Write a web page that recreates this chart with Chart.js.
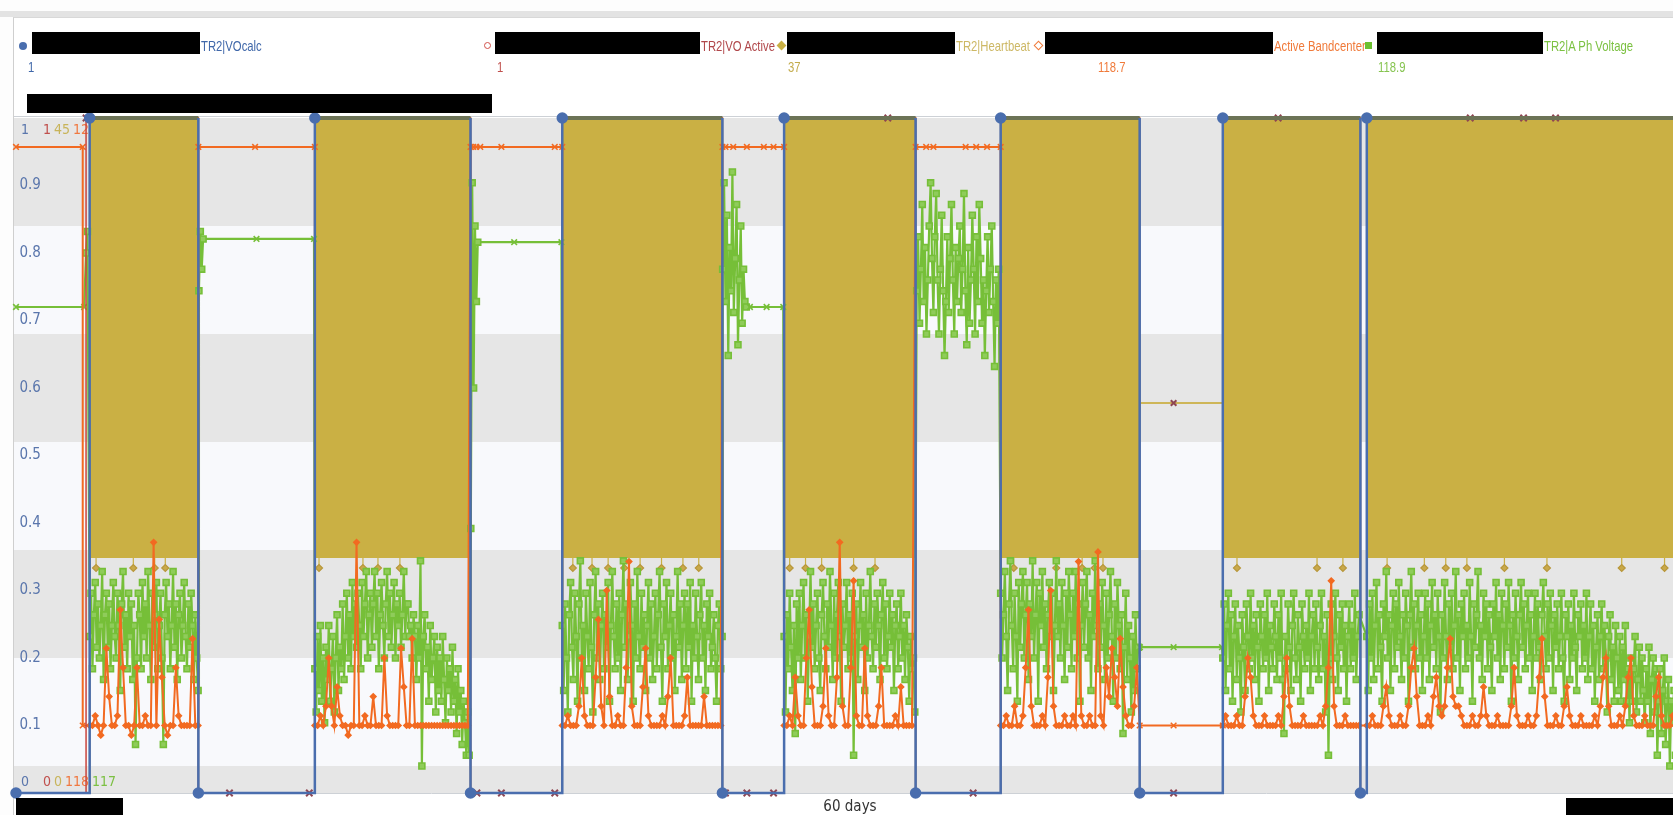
<!DOCTYPE html>
<html>
<head>
<meta charset="utf-8">
<title>TR2 VO trend</title>
<script src="https://cdn.jsdelivr.net/npm/chart.js@4/dist/chart.umd.min.js"></script>
<style>
  body { margin: 0; width: 1673px; height: 815px; overflow: hidden; background: #fdfdfd; position: relative;
         font-family: "Liberation Sans", Arial, sans-serif; }
  .topbar { position: absolute; left: 0; top: 11px; width: 1673px; height: 6px; background: #e3e3e3; }
  .frame { position: absolute; left: 13px; top: 17px; width: 1700px; height: 820px; background: #fff;
           border-left: 1px solid #cfcfcf; border-top: 1px solid #d8d8d8; }
  #wrap { position: absolute; left: 0; top: 0; }
  .lbl { position: absolute; font-size: 14.5px; line-height: 16px; white-space: nowrap;
         transform: scaleX(0.78); transform-origin: 0 0; }
  .mk { position: absolute; width: 7px; height: 7px; box-sizing: border-box; }
  .redact { position: absolute; background: #000; }
</style>
</head>
<body>
<div class="topbar"></div>
<div class="frame"></div>
<div id="wrap"><canvas id="trend" width="1700" height="815"></canvas></div>

<!-- legend -->
<div class="mk" style="left:19px;top:42px;width:8px;height:8px;border-radius:50%;background:#4a6eae"></div>
<div class="redact" style="left:32px;top:32px;width:168px;height:22px"></div>
<div class="lbl" style="left:201px;top:38px;color:#3f67a9">TR2|VOcalc</div>
<div class="lbl" style="left:28px;top:59px;color:#3f67a9">1</div>

<div class="mk" style="left:484px;top:42px;border:1.5px solid #d0504a;border-radius:50%"></div>
<div class="redact" style="left:495px;top:32px;width:205px;height:22px"></div>
<div class="lbl" style="left:701px;top:38px;color:#b0474a">TR2|VO Active</div>
<div class="lbl" style="left:497px;top:59px;color:#c0504d">1</div>

<div class="mk" style="left:778px;top:42px;background:#c9b044;transform:rotate(45deg)"></div>
<div class="redact" style="left:787px;top:32px;width:168px;height:22px"></div>
<div class="lbl" style="left:956px;top:38px;color:#cdb865">TR2|Heartbeat</div>
<div class="lbl" style="left:788px;top:59px;color:#c3ab4a">37</div>

<div class="mk" style="left:1035px;top:42px;border:1.5px solid #f07a3a;transform:rotate(45deg)"></div>
<div class="redact" style="left:1045px;top:32px;width:228px;height:22px"></div>
<div class="lbl" style="left:1274px;top:38px;color:#f07a3a">Active Bandcenter</div>
<div class="lbl" style="left:1098px;top:59px;color:#f07a3a">118.7</div>

<div class="mk" style="left:1365px;top:42px;background:#6cc030"></div>
<div class="redact" style="left:1377px;top:32px;width:166px;height:22px"></div>
<div class="lbl" style="left:1544px;top:38px;color:#7cc142">TR2|A Ph Voltage</div>
<div class="lbl" style="left:1378px;top:59px;color:#86c450">118.9</div>

<div class="redact" style="left:27px;top:94px;width:465px;height:19px"></div>
<div class="redact" style="left:16px;top:798px;width:107px;height:17px"></div>
<div class="redact" style="left:1566px;top:798px;width:107px;height:17px"></div>

<script>
// ---- data (x in days over the 60 day window) ----
const xRange = [0, 60];
const xTitle = '60 days';
const bandStep = 0.1;  // days between logged bandcenter samples inside a run
const voltStep = 0.05; // days between logged voltage samples inside a run

const calcRange = [0, 1];
const activeRange = [0, 1];
const beatRange = [0, 45];
const bandRange = [118, 125];
const voltRange = [116.75, 123];

// TR2|VOcalc change points [day, value]
const calcChanges = [[0, 0], [2.65, 1], [6.56, 0], [10.75, 1], [16.35, 0], [19.65, 1], [25.41, 0], [27.63, 1],
  [32.36, 0], [35.42, 1], [40.42, 0], [43.41, 1], [48.36, 0], [48.59, 1], [60, 1]];

// TR2|VO Active samples [day, value]
const activeSamples = [[0, 0], [2.52, 1], [6.56, 0], [7.68, 0], [10.55, 0], [10.75, 1], [16.35, 0], [16.58, 0],
  [17.46, 0], [19.38, 0], [19.65, 1], [25.41, 0], [25.52, 0], [26.29, 0], [27.25, 0], [27.63, 1], [31.36, 1],
  [32.36, 0], [34.43, 0], [35.42, 1], [40.42, 0], [41.64, 0], [43.41, 1], [45.4, 1], [48.36, 0], [48.59, 1],
  [52.31, 1], [54.23, 1], [55.38, 1], [60, 1]];

// TR2|Heartbeat envelope (counter swings between top and floor while VO is on)
const beatHigh = [[0, 0], [2.65, 0], [2.65, 45], [6.56, 45], [6.56, 0], [10.75, 0], [10.75, 45], [16.35, 45],
  [16.35, 0], [19.65, 0], [19.65, 45], [25.41, 45], [25.41, 0], [27.63, 0], [27.63, 45], [32.36, 45], [32.36, 0],
  [35.42, 0], [35.42, 45], [40.42, 45], [40.42, 26], [41.64, 26], [43.41, 26], [43.41, 45], [48.36, 45],
  [48.36, 0], [48.59, 0], [48.59, 45], [60, 45]];
const beatLow = [[0, 0], [2.65, 0], [2.65, 15.7], [6.56, 15.7], [6.56, 0], [10.75, 0], [10.75, 15.7], [16.35, 15.7],
  [16.35, 0], [19.65, 0], [19.65, 15.7], [25.41, 15.7], [25.41, 0], [27.63, 0], [27.63, 15.7], [32.36, 15.7],
  [32.36, 0], [35.42, 0], [35.42, 15.7], [40.42, 15.7], [40.42, 26], [43.41, 26], [43.41, 15.7], [48.36, 15.7],
  [48.36, 0], [48.59, 0], [48.59, 15.7], [60, 15.7]];
const beatFloor = 15.7;
const beatDipLevel = 15.0;
const beatDips = [2.88, 4.22, 4.99, 5.37, 10.9, 12.48, 13.02, 13.81, 20.03, 20.72, 21.3, 21.88, 22.45, 23.22,
  23.99, 24.56, 27.83, 28.4, 28.98, 30.13, 30.9, 35.89, 37.42, 38.35, 38.8, 39.1, 43.92, 46.8, 47.73,
  49.32, 50.66, 51.43, 52.19, 53.54, 55.07, 57.76, 59.3];

// Active Bandcenter
const bandHolds = [[0, 124.7], [2.4, 124.7], [2.4, 118.7],
  [6.56, 124.7], [8.6, 124.7], [10.75, 124.7],
  [16.35, 124.7], [16.45, 124.7], [16.55, 124.7], [16.7, 124.7], [17.46, 124.7], [19.38, 124.7], [19.65, 124.7],
  [25.41, 124.7], [25.52, 124.7], [25.8, 124.7], [26.29, 124.7], [26.9, 124.7], [27.25, 124.7], [27.63, 124.7],
  [32.36, 124.7], [32.74, 124.7], [33.0, 124.7], [34.16, 124.7], [34.54, 124.7], [34.93, 124.7], [35.42, 124.7],
  [40.42, 118.7], [41.64, 118.7], [43.41, 118.7]];
const bandRuns = [
  { start: 2.65, values: [
    118.7, 118.7, 118.8, 118.7, 118.6, 118.7, 119.5, 119.0, 118.7, 118.7,
    118.8, 119.9, 119.3, 118.7, 118.7, 118.6, 118.7, 119.3, 118.7, 118.7,
    118.8, 118.7, 118.7, 120.6, 118.7, 119.8, 119.2, 118.7, 118.6, 118.7,
    118.7, 119.3, 118.8, 118.7, 118.7, 118.7, 118.7, 119.6, 118.7, 118.7] },
  { start: 10.75, values: [
    118.7, 118.7, 118.8, 118.7, 118.9, 119.4, 118.9, 118.7, 119.1, 118.8,
    118.7, 118.7, 118.6, 118.7, 118.7, 120.6, 118.7, 118.7, 118.8, 118.7,
    118.7, 119.0, 118.7, 118.7, 118.7, 119.4, 118.8, 118.7, 118.7, 118.7,
    118.7, 119.5, 119.1, 118.7, 118.7, 119.6, 118.7, 118.7, 118.7, 118.7,
    118.7, 118.7, 118.7, 118.7, 118.7, 118.7, 118.7, 118.7, 118.7, 118.7,
    118.7, 118.7, 118.7, 118.7, 118.7, 118.7] },
  { start: 19.65, values: [
    118.7, 118.7, 118.8, 118.7, 118.7, 118.7, 118.9, 119.4, 118.8, 118.7,
    118.7, 118.7, 119.2, 119.8, 118.9, 118.7, 120.1, 119.0, 118.7, 118.7,
    118.8, 118.7, 118.7, 119.3, 120.4, 118.9, 118.7, 118.7, 118.7, 119.1,
    119.5, 118.8, 118.7, 118.7, 118.7, 118.7, 118.8, 118.7, 119.0, 119.4,
    118.7, 118.7, 118.7, 118.7, 118.8, 119.2, 118.7, 118.7, 118.7, 118.7,
    118.7, 119.0, 118.7, 118.7, 118.7, 118.7, 118.7, 118.7] },
  { start: 27.63, values: [
    118.7, 118.7, 118.8, 118.7, 119.2, 118.8, 118.7, 118.7, 119.4, 119.9,
    119.1, 118.7, 118.7, 118.7, 118.9, 119.5, 118.8, 118.7, 118.7, 119.2,
    120.6, 118.9, 118.7, 118.7, 119.3, 120.2, 118.8, 118.7, 118.7, 119.5,
    118.8, 118.7, 118.7, 118.7, 118.9, 119.3, 118.7, 118.7, 118.7, 118.7,
    118.8, 118.7, 119.1, 118.7, 118.7, 118.7, 118.7] },
  { start: 35.42, values: [
    118.7, 118.7, 118.8, 118.7, 118.7, 118.9, 118.7, 118.7, 118.8, 119.3,
    119.9, 118.9, 118.7, 118.7, 118.7, 118.8, 118.7, 119.2, 120.1, 118.9,
    118.7, 118.7, 118.7, 118.8, 118.7, 118.7, 118.8, 118.7, 120.4, 118.8,
    118.7, 118.7, 118.8, 118.7, 118.7, 120.5, 118.8, 118.7, 119.3, 119.0,
    119.5, 119.2, 118.9, 119.6, 119.1, 118.8, 118.7, 118.7, 118.9, 119.3] },
  { start: 43.41, values: [
    118.7, 118.8, 118.7, 118.7, 118.7, 118.8, 118.7, 118.7, 119.0, 119.4,
    119.2, 118.8, 118.7, 118.7, 118.7, 118.8, 118.7, 118.7, 118.7, 118.7,
    118.8, 118.7, 119.0, 119.4, 118.9, 118.7, 118.7, 118.7, 118.7, 118.8,
    118.7, 118.7, 118.7, 118.7, 118.7, 118.8, 118.7, 118.9, 119.3, 120.2,
    118.9, 118.7, 118.7, 118.7, 118.8, 118.7, 118.7, 118.7, 118.7, 118.7] },
  { start: 48.59, values: [
    118.7, 118.7, 118.8, 118.7, 118.7, 118.7, 118.9, 119.1, 118.8, 118.7,
    118.7, 118.7, 118.8, 118.7, 118.7, 118.9, 119.3, 119.5, 119.0, 118.7,
    118.7, 118.7, 118.8, 118.7, 119.0, 119.2, 118.9, 118.8, 118.9, 119.3,
    119.6, 119.0, 118.9, 118.9, 118.8, 118.7, 118.7, 118.7, 118.8, 118.7,
    118.7, 118.8, 119.1, 118.8, 118.7, 118.7, 118.7, 118.8, 118.7, 118.7,
    118.7, 118.7, 118.9, 119.3, 118.8, 118.7, 118.7, 118.7, 118.8, 118.7,
    118.7, 118.8, 119.2, 119.6, 119.0, 118.7, 118.7, 118.7, 118.8, 118.7,
    118.7, 118.9, 119.1, 118.8, 118.7, 118.7, 118.7, 118.8, 118.7, 118.7,
    118.7, 118.7, 118.8, 118.7, 118.9, 119.2, 119.4, 118.9, 118.7, 118.7,
    118.7, 118.8, 118.7, 118.9, 119.2, 119.4, 118.8, 118.7, 118.7, 118.7,
    118.8, 118.7, 118.7, 118.7, 119.0, 119.2, 118.8, 118.7, 118.7, 118.7,
    118.8, 118.7, 118.7, 118.7] }
];

// TR2|A Ph Voltage
const voltHolds = [[0, 121.25], [2.45, 121.25], [8.65, 121.88], [10.72, 121.88], [17.92, 121.85], [19.62, 121.85],
  [26.4, 121.25], [27.0, 121.25], [27.6, 121.25], [40.43, 118.1], [41.64, 118.1], [43.38, 118.1]];
const voltRuns = [
  { start: 2.52, values: [121.75, 121.95] },
  { start: 2.65, values: [
    118.2, 118.6, 117.9, 118.4, 118.7, 118.1, 118.5, 118.0, 118.3, 118.8,
    117.8, 118.4, 118.6, 118.1, 118.5, 117.9, 118.3, 118.7, 118.2, 118.0,
    118.6, 118.3, 117.7, 118.5, 118.8, 118.1, 118.4, 117.9, 118.6, 118.2,
    118.5, 117.8, 118.3, 117.2, 118.0, 118.6, 118.4, 117.9, 118.7, 118.2,
    118.5, 118.0, 118.8, 118.3, 117.8, 118.6, 118.1, 118.4, 118.7, 117.9,
    118.3, 118.6, 118.0, 117.2, 118.4, 118.7, 118.2, 118.5, 117.9, 118.3,
    118.8, 118.1, 118.5, 117.8, 118.4, 118.6, 118.0, 118.3, 118.7, 118.2,
    117.9, 118.5, 118.1, 118.6, 118.3, 117.8, 118.4, 118.0, 117.7] },
  { start: 6.58, values: [121.4, 121.95, 121.6, 121.88] },
  { start: 10.75, values: [
    117.9, 117.5, 118.2, 117.7, 118.3, 117.6, 118.0, 117.4, 118.1, 117.8,
    118.3, 117.6, 117.9, 118.2, 117.5, 118.0, 118.4, 117.7, 118.1, 117.9,
    118.5, 117.8, 118.2, 118.6, 118.0, 118.4, 117.9, 118.7, 118.2, 118.5,
    118.1, 118.6, 118.3, 117.9, 118.7, 118.2, 118.5, 118.8, 118.0, 118.4,
    118.6, 118.1, 118.5, 118.8, 118.2, 118.6, 117.9, 118.4, 118.7, 118.3,
    118.0, 118.5, 118.8, 118.2, 118.6, 118.1, 118.4, 118.7, 118.0, 118.5,
    118.3, 118.6, 118.1, 118.4, 118.8, 118.2, 118.5, 118.5, 118.2, 118.3,
    118.0, 118.4, 118.2, 117.8, 118.3, 118.0, 118.9, 117.0, 118.2, 118.4,
    117.9, 118.1, 117.6, 118.3, 117.8, 118.0, 118.2, 117.5, 118.1, 117.7,
    118.0, 117.6, 118.2, 117.8, 117.4, 118.0, 117.7, 117.9, 117.5, 118.1,
    117.6, 117.8, 117.3, 117.9, 117.5, 117.7, 117.2, 117.6, 117.4, 117.1,
    117.5, 117.1] },
  { start: 16.36, values: [119.2, 122.4, 120.5, 122.0, 121.3, 121.85] },
  { start: 19.65, values: [
    118.3, 117.7, 118.5, 118.0, 117.5, 118.4, 118.7, 118.1, 117.8, 118.6,
    118.2, 117.6, 118.5, 118.9, 118.0, 118.3, 117.7, 118.6, 118.2, 117.9,
    118.7, 118.1, 117.5, 118.4, 118.8, 118.0, 118.5, 117.8, 118.3, 118.6,
    117.9, 118.4, 118.1, 118.7, 117.6, 118.3, 118.8, 118.2, 117.9, 118.5,
    118.0, 118.6, 117.7, 118.4, 118.9, 118.1, 118.5, 117.8, 118.2, 118.7,
    118.3, 117.6, 118.5, 118.0, 118.8, 118.2, 117.9, 118.6, 118.1, 118.4,
    117.7, 118.3, 118.7, 118.0, 118.5, 117.8, 118.2, 118.6, 117.9, 118.4,
    118.8, 118.1, 117.6, 118.5, 118.2, 118.7, 117.9, 118.3, 118.6, 118.0,
    118.4, 117.7, 118.2, 118.8, 118.1, 118.5, 117.8, 118.3, 118.6, 117.9,
    118.5, 118.1, 118.7, 117.6, 118.3, 118.0, 118.6, 118.2, 117.8, 118.4,
    118.7, 118.0, 118.3, 117.7, 118.5, 118.2, 118.6, 117.9, 118.1, 118.4,
    118.0, 117.6, 118.3, 118.5, 117.9, 118.2] },
  { start: 25.42, values: [121.6, 122.4, 121.3, 122.1, 120.8, 121.8, 121.4, 122.5, 121.2, 121.7,
    122.2, 120.9, 121.5, 122.0, 121.1, 121.6, 121.3, 121.25] },
  { start: 27.63, values: [
    118.2, 117.5, 118.4, 117.9, 118.6, 118.1, 117.7, 118.3, 117.3, 118.5,
    118.0, 118.6, 117.8, 118.3, 118.7, 118.0, 118.4, 117.6, 118.2, 118.8,
    118.1, 118.5, 117.9, 118.3, 118.6, 118.0, 117.7, 118.4, 118.7, 118.2,
    117.9, 118.5, 118.1, 118.8, 118.3, 117.8, 118.6, 118.0, 118.4, 118.7,
    118.2, 117.6, 118.5, 118.1, 118.3, 118.7, 117.9, 118.4, 118.0, 118.6,
    117.1, 118.2, 118.5, 117.8, 118.3, 118.7, 118.1, 118.4, 117.7, 118.6,
    118.0, 118.3, 118.8, 118.2, 117.9, 118.5, 118.1, 118.6, 118.3, 117.8,
    118.4, 118.7, 118.0, 118.5, 117.9, 118.2, 118.6, 118.1, 118.4, 117.7,
    118.3, 118.5, 117.9, 118.2, 118.6, 118.0, 118.3, 117.8, 118.4, 118.1,
    117.6, 118.2, 117.9, 118.0, 117.5] },
  { start: 32.4, values: [
    121.4, 121.9, 121.1, 121.6, 122.2, 121.3, 121.8, 121.0, 121.5, 122.0,
    122.4, 121.7, 121.2, 121.9, 122.3, 121.5, 121.0, 121.6, 122.1, 121.4,
    120.8, 121.3, 121.9, 121.2, 121.7, 122.2, 121.5, 121.0, 121.8, 121.3,
    121.7, 122.0, 121.2, 121.6, 122.3, 121.4, 120.9, 121.8, 121.1, 121.5,
    122.1, 121.6, 121.0, 121.9, 121.3, 122.2, 121.7, 121.1, 121.5, 120.8,
    121.4, 121.9, 121.2, 121.6, 122.0, 121.3, 120.7, 121.5, 121.1, 121.6] },
  { start: 35.42, values: [
    118.6, 118.0, 118.4, 118.8, 118.2, 117.7, 118.5, 118.9, 118.3, 117.9,
    118.6, 118.2, 117.6, 118.7, 118.1, 118.5, 118.8, 118.0, 118.4, 118.7,
    117.8, 118.5, 118.2, 118.9, 118.0, 118.4, 118.7, 117.6, 118.6, 118.3,
    118.8, 118.1, 118.5, 117.9, 118.4, 118.7, 118.2, 118.6, 117.7, 118.3,
    118.9, 118.2, 118.5, 118.0, 118.7, 118.3, 117.8, 118.6, 118.1, 118.8,
    118.4, 117.9, 118.6, 118.2, 118.8, 118.0, 118.5, 117.6, 118.3, 118.7,
    118.1, 118.5, 118.8, 118.0, 118.4, 117.7, 118.6, 118.2, 118.9, 118.3,
    117.9, 118.5, 118.1, 118.7, 118.3, 117.8, 118.6, 118.0, 118.4, 118.8,
    118.2, 117.6, 118.5, 118.0, 118.7, 118.3, 117.9, 118.4, 117.3, 118.1,
    118.6, 117.8, 118.3, 118.0, 117.5, 118.2, 117.7, 118.4, 117.9, 118.1] },
  { start: 43.41, values: [
    118.0, 118.5, 117.7, 118.3, 118.6, 117.9, 118.4, 117.6, 118.2, 118.5,
    117.8, 118.3, 118.0, 117.5, 118.4, 118.1, 117.7, 118.5, 118.2, 117.9,
    118.6, 118.0, 118.3, 117.8, 118.4, 118.1, 117.6, 118.5, 118.2, 117.9,
    118.4, 118.0, 118.6, 117.7, 118.3, 118.1, 117.9, 118.5, 118.2, 117.8,
    118.4, 118.0, 118.6, 117.8, 117.3, 118.2, 117.9, 118.5, 118.1, 117.7,
    118.3, 118.6, 118.0, 117.8, 118.4, 118.1, 117.6, 118.5, 118.2, 117.9,
    118.3, 118.0, 118.6, 117.7, 118.2, 118.4, 117.9, 118.5, 118.1, 117.8,
    118.3, 118.6, 117.9, 118.2, 117.5, 118.4, 117.1, 118.0, 118.5, 117.8,
    118.2, 118.6, 118.0, 117.7, 118.4, 118.1, 118.5, 117.9, 118.3, 117.6,
    118.2, 118.5, 117.9, 118.3, 118.0, 118.6, 117.8, 118.2, 118.4] },
  { start: 48.59, values: [
    118.2, 117.7, 118.5, 118.0, 118.6, 117.8, 118.3, 118.7, 117.9, 118.4,
    118.1, 117.6, 118.5, 118.2, 118.8, 118.0, 118.4, 117.7, 118.3, 118.6,
    117.9, 118.5, 118.1, 118.7, 118.2, 117.8, 118.4, 118.0, 118.6, 118.3,
    117.6, 118.4, 118.8, 118.1, 118.5, 117.9, 118.3, 118.6, 118.0, 118.4,
    117.7, 118.2, 118.6, 118.0, 118.5, 117.8, 118.3, 118.7, 118.1, 118.4,
    117.9, 118.6, 118.2, 117.5, 118.4, 118.0, 118.7, 118.2, 117.8, 118.5,
    118.1, 118.6, 117.9, 118.3, 118.8, 118.0, 118.4, 117.7, 118.5, 118.2,
    118.6, 117.9, 118.3, 118.0, 118.7, 118.2, 117.6, 118.5, 118.1, 118.4,
    118.8, 118.0, 118.3, 117.8, 118.6, 118.2, 118.5, 117.9, 118.4, 118.1,
    117.7, 118.5, 118.2, 118.7, 118.0, 118.4, 117.8, 118.6, 118.3, 117.9,
    118.5, 118.1, 118.7, 118.3, 117.6, 118.4, 118.0, 118.6, 118.2, 117.8,
    118.4, 118.7, 118.1, 118.5, 117.9, 118.3, 118.6, 118.0, 118.4, 117.7,
    118.2, 118.6, 118.0, 118.5, 118.1, 117.8, 118.4, 118.7, 118.2, 117.9,
    118.5, 118.0, 118.6, 118.3, 117.7, 118.4, 118.1, 118.5, 117.9, 118.2,
    118.6, 118.0, 117.6, 118.4, 118.2, 118.5, 117.8, 118.3, 118.0, 118.6,
    118.1, 117.7, 118.4, 118.2, 118.5, 117.9, 118.3, 118.0, 118.6, 117.8,
    118.2, 118.5, 117.9, 118.3, 117.6, 118.1, 118.4, 117.8, 118.2, 118.5,
    117.9, 118.3, 118.0, 117.5, 118.2, 118.4, 117.8, 118.1, 117.6, 118.3,
    118.0, 117.7, 118.2, 117.6, 118.1, 117.8, 118.3, 117.6, 117.9, 117.4,
    118.0, 117.6, 117.9, 118.2, 117.5, 117.8, 118.1, 117.6, 118.0, 117.7,
    117.4, 117.9, 117.6, 118.1, 117.3, 117.8, 118.0, 117.5, 117.9, 117.1,
    117.6, 117.9, 117.3, 117.7, 118.0, 117.2, 117.6, 117.8, 117.0, 117.6,
    117.4, 117.7, 117.1, 117.6, 117.3, 117.7, 117.0, 117.5, 117.3] }
];

// ---- colours ----
const blue = '#4a6eae';
const topEdge = '#6c7356';
const red = '#c9463d';
const redMark = '#8f4652';
const gold = '#cab044';
const orange = '#f26a21';
const green = '#76bf38';

// ---- helpers ----
function toPoints(pairs) {
  return pairs.map(([x, y]) => ({ x, y }));
}

function expandRuns(runs, step) {
  const pts = [];
  runs.forEach(r => {
    r.values.forEach((v, i) => pts.push({ x: +(r.start + i * step).toFixed(3), y: v }));
  });
  return pts;
}

function mergeSeries(holds, runs, step) {
  const pts = holds.map(([x, y]) => ({ x, y, hold: true })).concat(expandRuns(runs, step));
  return pts.sort((a, b) => a.x - b.x); // stable, holds stay ahead of runs at equal x
}

// square wave drawn with explicit vertical edges so the top edge can be styled
function squareWave(changes) {
  const pts = [{ x: changes[0][0], y: changes[0][1], dot: true }];
  for (let i = 1; i < changes.length; i++) {
    const prev = changes[i - 1][1];
    const [x, y] = changes[i];
    if (y !== prev) pts.push({ x, y: prev });
    pts.push({ x, y, dot: true });
  }
  return pts;
}

function beatLowWithDips() {
  const pts = toPoints(beatLow);
  beatDips.forEach(d => {
    pts.push({ x: d, y: beatFloor }, { x: d, y: beatDipLevel, dip: true }, { x: d, y: beatFloor });
  });
  return pts.sort((a, b) => a.x - b.x);
}

// bands follow whole volts on the voltage axis, min/max of every axis printed in the corners
const plotBands = {
  id: 'plotBands',
  beforeDraw(chart) {
    const { ctx, chartArea: a, scales } = chart;
    const s = scales.yVolt;
    const left = a.left - 2;
    ctx.save();
    ctx.fillStyle = '#f8f9fc';
    ctx.fillRect(left, a.top, a.right - left, a.height);
    ctx.fillStyle = '#e6e6e6';
    for (let v = Math.floor(s.min); v < s.max; v++) {
      if (v % 2 !== 0) continue;
      const yTop = s.getPixelForValue(Math.min(v + 1, s.max));
      const yBot = s.getPixelForValue(Math.max(v, s.min));
      ctx.fillRect(left, yTop, a.right - left, yBot - yTop);
    }
    ctx.strokeStyle = '#cdd1d6';
    ctx.lineWidth = 1;
    ctx.beginPath();
    ctx.moveTo(left, a.top - 1.5);
    ctx.lineTo(a.right, a.top - 1.5);
    ctx.moveTo(left, a.bottom + 0.5);
    ctx.lineTo(a.right, a.bottom + 0.5);
    ctx.stroke();

    ctx.font = '14px "DejaVu Sans Condensed", sans-serif';
    ctx.textBaseline = 'middle';
    ctx.textAlign = 'left';
    let xt = a.left + 5, xb = a.left + 5;
    ['yCalc', 'yActive', 'yBeat', 'yBand', 'yVolt'].forEach((id, i) => {
      const sc = scales[id];
      const top = String(Math.round(sc.max));
      const bot = String(Math.round(sc.min));
      ctx.fillStyle = sc.options.ticks.color;
      ctx.fillText(top, xt, a.top + 12);
      ctx.fillText(bot, xb, a.bottom - 11);
      const gap = i === 0 ? 14 : 3;
      xt += ctx.measureText(top).width + gap;
      xb += ctx.measureText(bot).width + gap;
    });
    ctx.restore();
  }
};

Chart.defaults.font.family = '"DejaVu Sans Condensed", "DejaVu Sans", sans-serif';

const hiddenAxis = (range, color) => ({
  display: false, position: 'left', min: range[0], max: range[1],
  ticks: { color }
});

new Chart(document.getElementById('trend'), {
  type: 'line',
  data: {
    datasets: [
      {
        label: 'TR2|VOcalc',
        data: squareWave(calcChanges),
        yAxisID: 'yCalc',
        order: 0,
        borderColor: blue,
        borderWidth: 2.5,
        segment: {
          borderColor: c => (c.p0.parsed.y === 1 && c.p1.parsed.y === 1) ? topEdge : blue,
          borderWidth: c => (c.p0.parsed.y === 1 && c.p1.parsed.y === 1) ? 4 : 2.5
        },
        pointRadius: c => (c.raw && c.raw.dot) ? 4.5 : 0,
        pointBackgroundColor: blue,
        pointBorderColor: blue,
        clip: 8
      },
      {
        label: 'TR2|VO Active',
        data: toPoints(activeSamples),
        yAxisID: 'yActive',
        order: 1,
        stepped: 'before',
        borderColor: red,
        borderWidth: 1.5,
        pointStyle: 'crossRot',
        pointRadius: 4.5,
        pointBorderColor: redMark,
        pointBorderWidth: 2,
        clip: 8
      },
      {
        label: 'Active Bandcenter',
        data: mergeSeries(bandHolds, bandRuns, bandStep),
        yAxisID: 'yBand',
        order: 2,
        borderColor: orange,
        borderWidth: 2,
        pointStyle: c => (c.raw && c.raw.hold) ? 'crossRot' : 'rectRot',
        pointRadius: c => (c.raw && c.raw.hold) ? 4 : 2.8,
        pointBackgroundColor: orange,
        pointBorderColor: orange,
        pointBorderWidth: 1.5,
        clip: 8
      },
      {
        label: 'TR2|A Ph Voltage',
        data: mergeSeries(voltHolds, voltRuns, voltStep),
        yAxisID: 'yVolt',
        order: 3,
        borderColor: green,
        borderWidth: 2.2,
        pointStyle: c => (c.raw && c.raw.hold) ? 'crossRot' : 'rect',
        pointRadius: c => (c.raw && c.raw.hold) ? 4 : 4.2,
        pointBackgroundColor: '#8fcc5a',
        pointBorderColor: green,
        pointBorderWidth: 1.6,
        clip: 8
      },
      {
        label: 'TR2|Heartbeat',
        data: toPoints(beatHigh),
        yAxisID: 'yBeat',
        order: 4,
        borderColor: gold,
        borderWidth: 1.5,
        backgroundColor: gold,
        fill: '+1',
        pointRadius: c => (c.raw && c.raw.y > 0 && c.raw.y < beatRange[1] && c.raw.x > 41 && c.raw.x < 42) ? 4 : 0,
        pointStyle: 'crossRot',
        pointBorderColor: redMark,
        pointBorderWidth: 2,
        clip: 8
      },
      {
        label: 'TR2|Heartbeat low',
        data: beatLowWithDips(),
        yAxisID: 'yBeat',
        order: 5,
        borderColor: gold,
        borderWidth: 1.2,
        fill: false,
        pointStyle: 'rectRot',
        pointRadius: c => (c.raw && c.raw.dip) ? 3.5 : 0,
        pointBackgroundColor: '#c9a94a',
        pointBorderColor: '#b8973a',
        clip: 8
      }
    ]
  },
  options: {
    responsive: false,
    animation: false,
    events: [],
    layout: { padding: { left: 9, top: 118, right: 16, bottom: 0 } },
    plugins: {
      legend: { display: false },
      tooltip: { enabled: false },
      filler: { drawTime: 'beforeDatasetsDraw' }
    },
    scales: {
      x: {
        type: 'linear',
        min: xRange[0],
        max: xRange[1],
        grid: { display: false, drawTicks: false },
        border: { display: false },
        ticks: { display: false },
        title: {
          display: true,
          text: xTitle,
          color: '#333',
          font: { size: 15, lineHeight: 1 },
          padding: { top: 7, bottom: 0 }
        }
      },
      yCalc: {
        position: 'left',
        min: calcRange[0],
        max: calcRange[1],
        grid: { display: false, drawTicks: false },
        border: { display: false },
        ticks: {
          mirror: true,
          padding: 3.5,
          stepSize: 0.1,
          color: '#5a76ac',
          font: { size: 15 },
          callback: v => (v > 0.001 && v < 0.999) ? v.toFixed(1) : ''
        }
      },
      yActive: hiddenAxis(activeRange, '#c0504d'),
      yBeat: hiddenAxis(beatRange, '#c8b45a'),
      yBand: hiddenAxis(bandRange, '#f07840'),
      yVolt: hiddenAxis(voltRange, '#7cc043')
    }
  },
  plugins: [plotBands]
});
</script>
</body>
</html>
